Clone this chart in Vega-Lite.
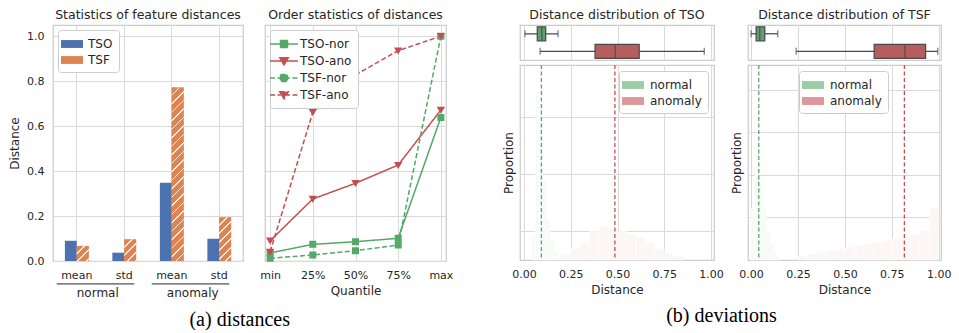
{
  "$schema": "https://vega.github.io/schema/vega-lite/v6.json",
  "padding": {"left": 7, "top": 7, "right": 0, "bottom": 0},
  "background": "white",
  "config": {
    "font": "DejaVu Sans",
    "view": {"stroke": "#cccccc", "strokeWidth": 1.25},
    "axis": {"labelFont": "DejaVu Sans", "labelFontSize": 11, "labelColor": "#262626", "titleFont": "DejaVu Sans", "titleFontSize": 12, "titleFontWeight": "normal", "titleColor": "#262626", "gridColor": "#dadada", "gridWidth": 1, "domain": false, "ticks": false, "tickSize": 0, "labelPadding": 8, "titlePadding": 5},
    "title": {"font": "DejaVu Sans", "fontSize": 12.5, "fontWeight": "normal", "color": "#262626", "offset": 4},
    "legend": {"labelFont": "DejaVu Sans", "labelFontSize": 12, "labelColor": "#262626", "fillColor": "#ffffff", "strokeColor": "#cccccc", "cornerRadius": 3, "padding": 6, "rowPadding": 2, "labelOffset": 8}
  },
  "spacing": 45,
  "resolve": {"scale": {"color": "independent", "shape": "independent", "strokeDash": "independent", "stroke": "independent", "fill": "independent"}, "legend": {"color": "independent", "shape": "independent", "strokeDash": "independent"}},
  "hconcat": [
    {
      "title": {"text": "(a) distances", "orient": "bottom", "font": "Liberation Serif", "fontSize": 20, "color": "#000000", "anchor": "middle", "offset": 10, "dx": 8},
      "bounds": "flush",
      "spacing": 22,
      "resolve": {"scale": {"color": "independent", "shape": "independent", "strokeDash": "independent"}, "legend": {"color": "independent"}},
      "hconcat": [
        {
          "width": 190,
          "height": 236,
          "title": "Statistics of feature distances",
          "data": {"values": [
            {"key": "normal|mean", "model": "TSO", "value": 0.09},
            {"key": "normal|mean", "model": "TSF", "value": 0.067},
            {"key": "normal|std", "model": "TSO", "value": 0.037},
            {"key": "normal|std", "model": "TSF", "value": 0.096},
            {"key": "anomaly|mean", "model": "TSO", "value": 0.348},
            {"key": "anomaly|mean", "model": "TSF", "value": 0.772},
            {"key": "anomaly|std", "model": "TSO", "value": 0.099},
            {"key": "anomaly|std", "model": "TSF", "value": 0.194}
          ]},
          "layer": [
            {
              "mark": {"type": "bar"},
              "encoding": {
                "x": {"field": "key", "type": "nominal", "scale": {"domain": ["normal|mean", "normal|std", "anomaly|mean", "anomaly|std"], "paddingInner": 0.5, "paddingOuter": 0.25}, "axis": {"title": null, "labelExpr": "split(datum.value, '|')[1]", "grid": true, "bandPosition": 0.5, "labelAngle": 0}},
                "xOffset": {"field": "model", "type": "nominal", "scale": {"domain": ["TSO", "TSF"], "paddingInner": 0, "paddingOuter": 0}},
                "y": {"field": "value", "type": "quantitative", "scale": {"domain": [0, 1.05], "nice": false}, "axis": {"title": "Distance", "values": [0, 0.2, 0.4, 0.6, 0.8, 1.0], "format": ".1f", "grid": true, "labelPadding": 9}},
                "color": {"field": "model", "type": "nominal", "scale": {"domain": ["TSO", "TSF"], "range": ["#4c72b0", "#dd8452"]}, "legend": {"title": null, "orient": "top-left", "offset": 5, "symbolType": "M-1.4,-0.5H1.4V0.5H-1.4Z", "symbolSize": 247, "symbolStrokeWidth": 0}}
              }
            },
            {
              "transform": [{"filter": "datum.key === 'normal|mean' && datum.model === 'TSF'"}],
              "mark": {"type": "bar", "fill": {"gradient": "linear", "x1": 0, "y1": 0, "x2": 1.0977, "y2": 1.392, "stops": [
                {"offset": 0, "color": "#dd8452"}, {"offset": 0.2, "color": "#dd8452"}, {"offset": 0.2, "color": "#fbeee6"}, {"offset": 0.25, "color": "#fbeee6"},
                {"offset": 0.25, "color": "#dd8452"}, {"offset": 0.45, "color": "#dd8452"}, {"offset": 0.45, "color": "#fbeee6"}, {"offset": 0.5, "color": "#fbeee6"},
                {"offset": 0.5, "color": "#dd8452"}, {"offset": 0.7, "color": "#dd8452"}, {"offset": 0.7, "color": "#fbeee6"}, {"offset": 0.75, "color": "#fbeee6"},
                {"offset": 0.75, "color": "#dd8452"}, {"offset": 0.95, "color": "#dd8452"}, {"offset": 0.95, "color": "#fbeee6"}, {"offset": 1, "color": "#fbeee6"}
              ]}},
              "encoding": {"x": {"field": "key", "type": "nominal"}, "xOffset": {"field": "model", "type": "nominal"}, "y": {"field": "value", "type": "quantitative"}}
            },
            {
              "transform": [{"filter": "datum.key === 'normal|std' && datum.model === 'TSF'"}],
              "mark": {"type": "bar", "fill": {"gradient": "linear", "x1": 0, "y1": 0, "x2": 0.6655, "y2": 1.2094, "stops": [
                {"offset": 0, "color": "#dd8452"}, {"offset": 0.2, "color": "#dd8452"}, {"offset": 0.2, "color": "#fbeee6"}, {"offset": 0.25, "color": "#fbeee6"},
                {"offset": 0.25, "color": "#dd8452"}, {"offset": 0.45, "color": "#dd8452"}, {"offset": 0.45, "color": "#fbeee6"}, {"offset": 0.5, "color": "#fbeee6"},
                {"offset": 0.5, "color": "#dd8452"}, {"offset": 0.7, "color": "#dd8452"}, {"offset": 0.7, "color": "#fbeee6"}, {"offset": 0.75, "color": "#fbeee6"},
                {"offset": 0.75, "color": "#dd8452"}, {"offset": 0.95, "color": "#dd8452"}, {"offset": 0.95, "color": "#fbeee6"}, {"offset": 1, "color": "#fbeee6"}
              ]}},
              "encoding": {"x": {"field": "key", "type": "nominal"}, "xOffset": {"field": "model", "type": "nominal"}, "y": {"field": "value", "type": "quantitative"}}
            },
            {
              "transform": [{"filter": "datum.key === 'anomaly|mean' && datum.model === 'TSF'"}],
              "mark": {"type": "bar", "fill": {"gradient": "linear", "x1": 0, "y1": 0, "x2": 0.07342, "y2": 1.0727, "stops": [
                {"offset": 0, "color": "#dd8452"}, {"offset": 0.03636, "color": "#dd8452"}, {"offset": 0.03636, "color": "#fbeee6"}, {"offset": 0.04545, "color": "#fbeee6"},
                {"offset": 0.04545, "color": "#dd8452"}, {"offset": 0.08182, "color": "#dd8452"}, {"offset": 0.08182, "color": "#fbeee6"}, {"offset": 0.09091, "color": "#fbeee6"},
                {"offset": 0.09091, "color": "#dd8452"}, {"offset": 0.12727, "color": "#dd8452"}, {"offset": 0.12727, "color": "#fbeee6"}, {"offset": 0.13636, "color": "#fbeee6"},
                {"offset": 0.13636, "color": "#dd8452"}, {"offset": 0.17273, "color": "#dd8452"}, {"offset": 0.17273, "color": "#fbeee6"}, {"offset": 0.18182, "color": "#fbeee6"},
                {"offset": 0.18182, "color": "#dd8452"}, {"offset": 0.21818, "color": "#dd8452"}, {"offset": 0.21818, "color": "#fbeee6"}, {"offset": 0.22727, "color": "#fbeee6"},
                {"offset": 0.22727, "color": "#dd8452"}, {"offset": 0.26364, "color": "#dd8452"}, {"offset": 0.26364, "color": "#fbeee6"}, {"offset": 0.27273, "color": "#fbeee6"},
                {"offset": 0.27273, "color": "#dd8452"}, {"offset": 0.30909, "color": "#dd8452"}, {"offset": 0.30909, "color": "#fbeee6"}, {"offset": 0.31818, "color": "#fbeee6"},
                {"offset": 0.31818, "color": "#dd8452"}, {"offset": 0.35455, "color": "#dd8452"}, {"offset": 0.35455, "color": "#fbeee6"}, {"offset": 0.36364, "color": "#fbeee6"},
                {"offset": 0.36364, "color": "#dd8452"}, {"offset": 0.4, "color": "#dd8452"}, {"offset": 0.4, "color": "#fbeee6"}, {"offset": 0.40909, "color": "#fbeee6"},
                {"offset": 0.40909, "color": "#dd8452"}, {"offset": 0.44545, "color": "#dd8452"}, {"offset": 0.44545, "color": "#fbeee6"}, {"offset": 0.45455, "color": "#fbeee6"},
                {"offset": 0.45455, "color": "#dd8452"}, {"offset": 0.49091, "color": "#dd8452"}, {"offset": 0.49091, "color": "#fbeee6"}, {"offset": 0.5, "color": "#fbeee6"},
                {"offset": 0.5, "color": "#dd8452"}, {"offset": 0.53636, "color": "#dd8452"}, {"offset": 0.53636, "color": "#fbeee6"}, {"offset": 0.54545, "color": "#fbeee6"},
                {"offset": 0.54545, "color": "#dd8452"}, {"offset": 0.58182, "color": "#dd8452"}, {"offset": 0.58182, "color": "#fbeee6"}, {"offset": 0.59091, "color": "#fbeee6"},
                {"offset": 0.59091, "color": "#dd8452"}, {"offset": 0.62727, "color": "#dd8452"}, {"offset": 0.62727, "color": "#fbeee6"}, {"offset": 0.63636, "color": "#fbeee6"},
                {"offset": 0.63636, "color": "#dd8452"}, {"offset": 0.67273, "color": "#dd8452"}, {"offset": 0.67273, "color": "#fbeee6"}, {"offset": 0.68182, "color": "#fbeee6"},
                {"offset": 0.68182, "color": "#dd8452"}, {"offset": 0.71818, "color": "#dd8452"}, {"offset": 0.71818, "color": "#fbeee6"}, {"offset": 0.72727, "color": "#fbeee6"},
                {"offset": 0.72727, "color": "#dd8452"}, {"offset": 0.76364, "color": "#dd8452"}, {"offset": 0.76364, "color": "#fbeee6"}, {"offset": 0.77273, "color": "#fbeee6"},
                {"offset": 0.77273, "color": "#dd8452"}, {"offset": 0.80909, "color": "#dd8452"}, {"offset": 0.80909, "color": "#fbeee6"}, {"offset": 0.81818, "color": "#fbeee6"},
                {"offset": 0.81818, "color": "#dd8452"}, {"offset": 0.85455, "color": "#dd8452"}, {"offset": 0.85455, "color": "#fbeee6"}, {"offset": 0.86364, "color": "#fbeee6"},
                {"offset": 0.86364, "color": "#dd8452"}, {"offset": 0.9, "color": "#dd8452"}, {"offset": 0.9, "color": "#fbeee6"}, {"offset": 0.90909, "color": "#fbeee6"},
                {"offset": 0.90909, "color": "#dd8452"}, {"offset": 0.94545, "color": "#dd8452"}, {"offset": 0.94545, "color": "#fbeee6"}, {"offset": 0.95455, "color": "#fbeee6"},
                {"offset": 0.95455, "color": "#dd8452"}, {"offset": 0.99091, "color": "#dd8452"}, {"offset": 0.99091, "color": "#fbeee6"}, {"offset": 1, "color": "#fbeee6"}
              ]}},
              "encoding": {"x": {"field": "key", "type": "nominal"}, "xOffset": {"field": "model", "type": "nominal"}, "y": {"field": "value", "type": "quantitative"}}
            },
            {
              "transform": [{"filter": "datum.key === 'anomaly|std' && datum.model === 'TSF'"}],
              "mark": {"type": "bar", "fill": {"gradient": "linear", "x1": 0, "y1": 0, "x2": 0.346, "y2": 1.2705, "stops": [
                {"offset": 0, "color": "#dd8452"}, {"offset": 0.11429, "color": "#dd8452"}, {"offset": 0.11429, "color": "#fbeee6"}, {"offset": 0.14286, "color": "#fbeee6"},
                {"offset": 0.14286, "color": "#dd8452"}, {"offset": 0.25714, "color": "#dd8452"}, {"offset": 0.25714, "color": "#fbeee6"}, {"offset": 0.28571, "color": "#fbeee6"},
                {"offset": 0.28571, "color": "#dd8452"}, {"offset": 0.4, "color": "#dd8452"}, {"offset": 0.4, "color": "#fbeee6"}, {"offset": 0.42857, "color": "#fbeee6"},
                {"offset": 0.42857, "color": "#dd8452"}, {"offset": 0.54286, "color": "#dd8452"}, {"offset": 0.54286, "color": "#fbeee6"}, {"offset": 0.57143, "color": "#fbeee6"},
                {"offset": 0.57143, "color": "#dd8452"}, {"offset": 0.68571, "color": "#dd8452"}, {"offset": 0.68571, "color": "#fbeee6"}, {"offset": 0.71429, "color": "#fbeee6"},
                {"offset": 0.71429, "color": "#dd8452"}, {"offset": 0.82857, "color": "#dd8452"}, {"offset": 0.82857, "color": "#fbeee6"}, {"offset": 0.85714, "color": "#fbeee6"},
                {"offset": 0.85714, "color": "#dd8452"}, {"offset": 0.97143, "color": "#dd8452"}, {"offset": 0.97143, "color": "#fbeee6"}, {"offset": 1, "color": "#fbeee6"}
              ]}},
              "encoding": {"x": {"field": "key", "type": "nominal"}, "xOffset": {"field": "model", "type": "nominal"}, "y": {"field": "value", "type": "quantitative"}}
            },
            {
              "data": {"values": [
                {"grp": "normal", "first": "normal|mean", "last": "normal|std"},
                {"grp": "anomaly", "first": "anomaly|mean", "last": "anomaly|std"}
              ]},
              "mark": {"type": "rule", "color": "#262626", "strokeWidth": 1, "xOffset": -20, "x2Offset": 10},
              "encoding": {"x": {"field": "first", "type": "nominal"}, "x2": {"field": "last"}, "y": {"datum": -0.102}}
            },
            {
              "data": {"values": [
                {"grp": "normal", "first": "normal|mean", "last": "normal|std"},
                {"grp": "anomaly", "first": "anomaly|mean", "last": "anomaly|std"}
              ]},
              "mark": {"type": "text", "dx": 21, "fontSize": 12, "color": "#262626", "baseline": "middle", "font": "DejaVu Sans"},
              "encoding": {"x": {"field": "first", "type": "nominal"}, "y": {"datum": -0.142}, "text": {"field": "grp"}}
            }
          ]
        },
        {
          "width": 181,
          "height": 236,
          "title": "Order statistics of distances",
          "data": {"values": [
            {"q": "min", "series": "TSO-nor", "value": 0.036},
            {"q": "25%", "series": "TSO-nor", "value": 0.074},
            {"q": "50%", "series": "TSO-nor", "value": 0.086},
            {"q": "75%", "series": "TSO-nor", "value": 0.101},
            {"q": "max", "series": "TSO-nor", "value": 0.639},
            {"q": "min", "series": "TSO-ano", "value": 0.09},
            {"q": "25%", "series": "TSO-ano", "value": 0.276},
            {"q": "50%", "series": "TSO-ano", "value": 0.346},
            {"q": "75%", "series": "TSO-ano", "value": 0.427},
            {"q": "max", "series": "TSO-ano", "value": 0.672},
            {"q": "min", "series": "TSF-nor", "value": 0.012},
            {"q": "25%", "series": "TSF-nor", "value": 0.027},
            {"q": "50%", "series": "TSF-nor", "value": 0.046},
            {"q": "75%", "series": "TSF-nor", "value": 0.071},
            {"q": "max", "series": "TSF-nor", "value": 1.0},
            {"q": "min", "series": "TSF-ano", "value": 0.041},
            {"q": "25%", "series": "TSF-ano", "value": 0.662},
            {"q": "50%", "series": "TSF-ano", "value": 0.828},
            {"q": "75%", "series": "TSF-ano", "value": 0.936},
            {"q": "max", "series": "TSF-ano", "value": 1.0}
          ]},
          "encoding": {
            "x": {"field": "q", "type": "ordinal", "scale": {"type": "point", "domain": ["min", "25%", "50%", "75%", "max"], "padding": 0.12}, "axis": {"title": "Quantile", "grid": true, "labelAngle": 0}},
            "y": {"field": "value", "type": "quantitative", "scale": {"domain": [0, 1.05], "nice": false}, "axis": {"title": null, "labels": false, "values": [0, 0.2, 0.4, 0.6, 0.8, 1.0], "grid": true}},
            "color": {"field": "series", "type": "nominal", "scale": {"domain": ["TSO-nor", "TSO-ano", "TSF-nor", "TSF-ano"], "range": ["#55a868", "#c44e52", "#55a868", "#c44e52"]}, "legend": {"title": null, "orient": "top-left", "offset": 5, "symbolSize": 196, "symbolStrokeWidth": 1.5}},
            "strokeDash": {"field": "series", "type": "nominal", "scale": {"domain": ["TSO-nor", "TSO-ano", "TSF-nor", "TSF-ano"], "range": [[1, 0], [1, 0], [5, 2.5], [5, 2.5]]}, "legend": {"title": null, "orient": "top-left", "offset": 5, "symbolSize": 196, "symbolStrokeWidth": 1.5}},
            "shape": {"field": "series", "type": "nominal", "scale": {"domain": ["TSO-nor", "TSO-ano", "TSF-nor", "TSF-ano"], "range": ["M-2,0H2M-0.5,-0.5H0.5V0.5H-0.5Z", "M-2,0H2M-0.6,-0.45H0.6L0,0.55Z", "M-2,0H2M-0.5,-0.5H0.5V0.5H-0.5Z", "M-2,0H2M-0.6,-0.45H0.6L0,0.55Z"]}, "legend": {"title": null, "orient": "top-left", "offset": 5, "symbolSize": 196, "symbolStrokeWidth": 1.5}}
          },
          "layer": [
            {"mark": {"type": "line", "strokeWidth": 1.5}},
            {"mark": {"type": "point", "filled": true, "size": 196, "opacity": 1, "strokeWidth": 0}}
          ]
        }
      ]
    },
    {
      "title": {"text": "(b) deviations", "orient": "bottom", "font": "Liberation Serif", "fontSize": 20, "color": "#000000", "anchor": "middle", "offset": 10, "dx": -5},
      "columns": 2,
      "bounds": "flush",
      "spacing": {"row": 5, "column": 34},
      "resolve": {"scale": {"color": "independent", "x": "independent", "y": "independent"}, "legend": {"color": "independent"}},
      "concat": [
        {
          "width": 194,
          "height": 35,
          "title": "Distance distribution of TSO",
          "data": {"values": [
            {"grp": "normal", "lower": 0.005, "q1": 0.071, "median": 0.095, "q3": 0.116, "upper": 0.182},
            {"grp": "anomaly", "lower": 0.086, "q1": 0.38, "median": 0.488, "q3": 0.616, "upper": 0.964}
          ]},
          "encoding": {"y": {"field": "grp", "type": "nominal", "scale": {"domain": ["normal", "anomaly"], "paddingInner": 0, "paddingOuter": 0}, "axis": null}},
          "layer": [
            {"mark": {"type": "rule", "color": "#4a4a4a", "strokeWidth": 1.25}, "encoding": {"x": {"field": "lower", "type": "quantitative", "scale": {"domain": [-0.0214, 1.016], "nice": false, "zero": false}, "axis": {"title": null, "labels": false, "values": [0, 0.25, 0.5, 0.75, 1], "grid": true}}, "x2": {"field": "upper"}}},
            {"mark": {"type": "bar", "height": {"band": 0.8}, "stroke": "#4a4a4a", "strokeWidth": 1.25}, "encoding": {"x": {"field": "q1", "type": "quantitative"}, "x2": {"field": "q3"}, "fill": {"field": "grp", "type": "nominal", "scale": {"domain": ["normal", "anomaly"], "range": ["#5f9e6e", "#b65d60"]}, "legend": null}}},
            {"mark": {"type": "tick", "color": "#4a4a4a", "thickness": 1.5, "size": 14}, "encoding": {"x": {"field": "median", "type": "quantitative"}}},
            {"mark": {"type": "tick", "color": "#4a4a4a", "thickness": 1.25, "size": 7}, "encoding": {"x": {"field": "lower", "type": "quantitative"}}},
            {"mark": {"type": "tick", "color": "#4a4a4a", "thickness": 1.25, "size": 7}, "encoding": {"x": {"field": "upper", "type": "quantitative"}}}
          ]
        },
        {
          "width": 193,
          "height": 35,
          "title": "Distance distribution of TSF",
          "data": {"values": [
            {"grp": "normal", "lower": 0.0, "q1": 0.027, "median": 0.046, "q3": 0.073, "upper": 0.142},
            {"grp": "anomaly", "lower": 0.24, "q1": 0.656, "median": 0.82, "q3": 0.93, "upper": 0.995}
          ]},
          "encoding": {"y": {"field": "grp", "type": "nominal", "scale": {"domain": ["normal", "anomaly"], "paddingInner": 0, "paddingOuter": 0}, "axis": null}},
          "layer": [
            {"mark": {"type": "rule", "color": "#4a4a4a", "strokeWidth": 1.25}, "encoding": {"x": {"field": "lower", "type": "quantitative", "scale": {"domain": [-0.0165, 1.0122], "nice": false, "zero": false}, "axis": {"title": null, "labels": false, "values": [0, 0.25, 0.5, 0.75, 1], "grid": true}}, "x2": {"field": "upper"}}},
            {"mark": {"type": "bar", "height": {"band": 0.8}, "stroke": "#4a4a4a", "strokeWidth": 1.25}, "encoding": {"x": {"field": "q1", "type": "quantitative"}, "x2": {"field": "q3"}, "fill": {"field": "grp", "type": "nominal", "scale": {"domain": ["normal", "anomaly"], "range": ["#5f9e6e", "#b65d60"]}, "legend": null}}},
            {"mark": {"type": "tick", "color": "#4a4a4a", "thickness": 1.5, "size": 14}, "encoding": {"x": {"field": "median", "type": "quantitative"}}},
            {"mark": {"type": "tick", "color": "#4a4a4a", "thickness": 1.25, "size": 7}, "encoding": {"x": {"field": "lower", "type": "quantitative"}}},
            {"mark": {"type": "tick", "color": "#4a4a4a", "thickness": 1.25, "size": 7}, "encoding": {"x": {"field": "upper", "type": "quantitative"}}}
          ]
        },
        {
          "width": 194,
          "height": 195,
          "data": {"values": [
            {"grp": "normal", "b0": 0.04, "b1": 0.06, "h": 0.04},
            {"grp": "normal", "b0": 0.06, "b1": 0.08, "h": 0.29},
            {"grp": "normal", "b0": 0.08, "b1": 0.10, "h": 0.25},
            {"grp": "normal", "b0": 0.10, "b1": 0.12, "h": 0.14},
            {"grp": "normal", "b0": 0.12, "b1": 0.14, "h": 0.07},
            {"grp": "normal", "b0": 0.14, "b1": 0.16, "h": 0.035},
            {"grp": "normal", "b0": 0.16, "b1": 0.18, "h": 0.015},
            {"grp": "normal", "b0": 0.18, "b1": 0.20, "h": 0.005},
            {"grp": "anomaly", "b0": 0.20, "b1": 0.25, "h": 0.01},
            {"grp": "anomaly", "b0": 0.25, "b1": 0.30, "h": 0.02},
            {"grp": "anomaly", "b0": 0.30, "b1": 0.35, "h": 0.03},
            {"grp": "anomaly", "b0": 0.35, "b1": 0.40, "h": 0.05},
            {"grp": "anomaly", "b0": 0.40, "b1": 0.45, "h": 0.058},
            {"grp": "anomaly", "b0": 0.45, "b1": 0.50, "h": 0.055},
            {"grp": "anomaly", "b0": 0.50, "b1": 0.55, "h": 0.05},
            {"grp": "anomaly", "b0": 0.55, "b1": 0.60, "h": 0.045},
            {"grp": "anomaly", "b0": 0.60, "b1": 0.65, "h": 0.04},
            {"grp": "anomaly", "b0": 0.65, "b1": 0.70, "h": 0.03},
            {"grp": "anomaly", "b0": 0.70, "b1": 0.75, "h": 0.02},
            {"grp": "anomaly", "b0": 0.75, "b1": 0.80, "h": 0.012},
            {"grp": "anomaly", "b0": 0.80, "b1": 0.85, "h": 0.006}
          ]},
          "layer": [
            {
              "transform": [{"filter": "datum.grp === 'normal'"}],
              "mark": {"type": "rect", "fill": "#f7fbf8", "stroke": "#ffffff", "strokeWidth": 0.5},
              "encoding": {
                "x": {"field": "b0", "type": "quantitative", "scale": {"domain": [-0.0214, 1.016], "nice": false, "zero": false}, "axis": {"title": "Distance", "values": [0, 0.25, 0.5, 0.75, 1], "format": ".2f", "grid": true}},
                "x2": {"field": "b1"},
                "y": {"field": "h", "type": "quantitative", "scale": {"domain": [0, 0.342], "nice": false}, "axis": {"title": "Proportion", "labels": false, "values": [0.05, 0.1, 0.15, 0.2, 0.25, 0.3], "grid": true}},
                "y2": {"datum": 0}
              }
            },
            {
              "transform": [{"filter": "datum.grp === 'anomaly'"}],
              "mark": {"type": "rect", "fill": "#fcf6f6", "stroke": "#ffffff", "strokeWidth": 0.5},
              "encoding": {
                "x": {"field": "b0", "type": "quantitative"},
                "x2": {"field": "b1"},
                "y": {"field": "h", "type": "quantitative"},
                "y2": {"datum": 0}
              }
            },
            {
              "mark": {"type": "bar", "opacity": 0},
              "encoding": {
                "x": {"field": "b0", "type": "quantitative"},
                "x2": {"field": "b1"},
                "y": {"field": "h", "type": "quantitative"},
                "y2": {"datum": 0},
                "color": {"field": "grp", "type": "nominal", "scale": {"domain": ["normal", "anomaly"], "range": ["#99cda5", "#df979b"]}, "legend": {"title": null, "orient": "top-right", "offset": 6, "symbolType": "M-1.4,-0.5H1.4V0.5H-1.4Z", "symbolSize": 247, "symbolStrokeWidth": 0, "symbolOpacity": 1, "labelOffset": 9}}
              }
            },
            {
              "data": {"values": [
                {"grp": "normal", "mean": 0.093},
                {"grp": "anomaly", "mean": 0.486}
              ]},
              "mark": {"type": "rule", "strokeDash": [4, 2.5], "strokeWidth": 1.3},
              "encoding": {
                "x": {"field": "mean", "type": "quantitative"},
                "stroke": {"field": "grp", "type": "nominal", "scale": {"domain": ["normal", "anomaly"], "range": ["#55a868", "#c44e52"]}, "legend": null}
              }
            }
          ]
        },
        {
          "width": 193,
          "height": 195,
          "data": {"values": [
            {"grp": "normal", "b0": 0.0, "b1": 0.02, "h": 0.06},
            {"grp": "normal", "b0": 0.02, "b1": 0.04, "h": 0.102},
            {"grp": "normal", "b0": 0.04, "b1": 0.06, "h": 0.09},
            {"grp": "normal", "b0": 0.06, "b1": 0.08, "h": 0.06},
            {"grp": "normal", "b0": 0.08, "b1": 0.10, "h": 0.035},
            {"grp": "normal", "b0": 0.10, "b1": 0.12, "h": 0.02},
            {"grp": "normal", "b0": 0.12, "b1": 0.14, "h": 0.01},
            {"grp": "normal", "b0": 0.14, "b1": 0.16, "h": 0.004},
            {"grp": "anomaly", "b0": 0.25, "b1": 0.30, "h": 0.005},
            {"grp": "anomaly", "b0": 0.30, "b1": 0.35, "h": 0.007},
            {"grp": "anomaly", "b0": 0.35, "b1": 0.40, "h": 0.009},
            {"grp": "anomaly", "b0": 0.40, "b1": 0.45, "h": 0.011},
            {"grp": "anomaly", "b0": 0.45, "b1": 0.50, "h": 0.013},
            {"grp": "anomaly", "b0": 0.50, "b1": 0.55, "h": 0.015},
            {"grp": "anomaly", "b0": 0.55, "b1": 0.60, "h": 0.017},
            {"grp": "anomaly", "b0": 0.60, "b1": 0.65, "h": 0.019},
            {"grp": "anomaly", "b0": 0.65, "b1": 0.70, "h": 0.021},
            {"grp": "anomaly", "b0": 0.70, "b1": 0.75, "h": 0.023},
            {"grp": "anomaly", "b0": 0.75, "b1": 0.80, "h": 0.025},
            {"grp": "anomaly", "b0": 0.80, "b1": 0.85, "h": 0.027},
            {"grp": "anomaly", "b0": 0.85, "b1": 0.90, "h": 0.03},
            {"grp": "anomaly", "b0": 0.90, "b1": 0.95, "h": 0.035},
            {"grp": "anomaly", "b0": 0.95, "b1": 1.00, "h": 0.062}
          ]},
          "layer": [
            {
              "transform": [{"filter": "datum.grp === 'normal'"}],
              "mark": {"type": "rect", "fill": "#f7fbf8", "stroke": "#ffffff", "strokeWidth": 0.5},
              "encoding": {
                "x": {"field": "b0", "type": "quantitative", "scale": {"domain": [-0.0165, 1.0122], "nice": false, "zero": false}, "axis": {"title": "Distance", "values": [0, 0.25, 0.5, 0.75, 1], "format": ".2f", "grid": true}},
                "x2": {"field": "b1"},
                "y": {"field": "h", "type": "quantitative", "scale": {"domain": [0, 0.2294], "nice": false}, "axis": {"title": "Proportion", "labels": false, "values": [0.05, 0.1, 0.15, 0.2], "grid": true}},
                "y2": {"datum": 0}
              }
            },
            {
              "transform": [{"filter": "datum.grp === 'anomaly'"}],
              "mark": {"type": "rect", "fill": "#fcf6f6", "stroke": "#ffffff", "strokeWidth": 0.5},
              "encoding": {
                "x": {"field": "b0", "type": "quantitative"},
                "x2": {"field": "b1"},
                "y": {"field": "h", "type": "quantitative"},
                "y2": {"datum": 0}
              }
            },
            {
              "mark": {"type": "bar", "opacity": 0},
              "encoding": {
                "x": {"field": "b0", "type": "quantitative"},
                "x2": {"field": "b1"},
                "y": {"field": "h", "type": "quantitative"},
                "y2": {"datum": 0},
                "color": {"field": "grp", "type": "nominal", "scale": {"domain": ["normal", "anomaly"], "range": ["#99cda5", "#df979b"]}, "legend": {"title": null, "orient": "none", "legendX": 51, "legendY": 6, "symbolType": "M-1.4,-0.5H1.4V0.5H-1.4Z", "symbolSize": 247, "symbolStrokeWidth": 0, "symbolOpacity": 1, "labelOffset": 9}}
              }
            },
            {
              "data": {"values": [
                {"grp": "normal", "mean": 0.041},
                {"grp": "anomaly", "mean": 0.817}
              ]},
              "mark": {"type": "rule", "strokeDash": [4, 2.5], "strokeWidth": 1.3},
              "encoding": {
                "x": {"field": "mean", "type": "quantitative"},
                "stroke": {"field": "grp", "type": "nominal", "scale": {"domain": ["normal", "anomaly"], "range": ["#55a868", "#c44e52"]}, "legend": null}
              }
            }
          ]
        }
      ]
    }
  ]
}
